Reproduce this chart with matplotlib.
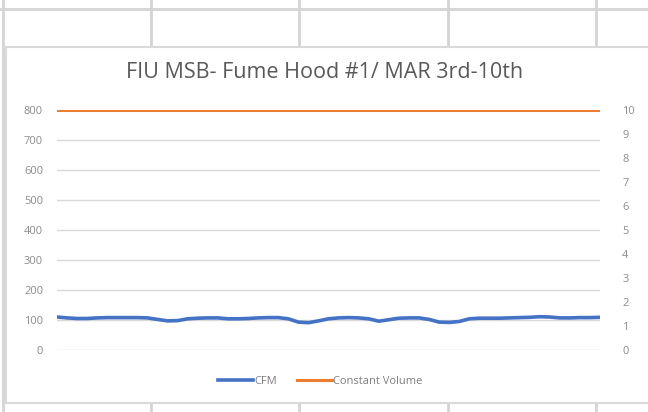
import matplotlib
matplotlib.use("Agg")
import matplotlib.pyplot as plt
from matplotlib.lines import Line2D
from matplotlib.patches import Rectangle

# CFM readings, MAR 3rd-10th
cfm = [110, 107, 105, 105, 107, 108, 108, 108, 108, 107,
       102, 97, 98, 104, 106, 107, 107, 104, 104, 105,
       107, 108, 108, 104, 93, 91, 97, 104, 107, 108,
       107, 104, 96, 101, 106, 107, 107, 102, 93, 92,
       95, 104, 106, 106, 106, 107, 108, 109, 111, 110,
       107, 107, 108, 108, 109]
constant_volume = [800] * len(cfm)

left_ticks = list(range(0, 801, 100))
right_ticks = list(range(0, 11))
title = "FIU MSB- Fume Hood #1/ MAR 3rd-10th"

W, H = 648, 412
fig = plt.figure(figsize=(W / 100, H / 100), dpi=100)
fig.patch.set_facecolor("white")


def px(x, y):
    return x / W, 1 - y / H


# spreadsheet cell grid behind the chart
grid_col = "#d4d4d4"
for x in [3, 151, 299, 448, 596]:
    fig.add_artist(Line2D([x / W, x / W], [0, 1], color=grid_col, lw=2, transform=fig.transFigure, zorder=0))
fig.add_artist(Line2D([0, 1], [1 - 9 / H, 1 - 9 / H], color=grid_col, lw=2, transform=fig.transFigure, zorder=0))

# chart area
x0, y0 = px(6, 403)
x1, y1 = px(652, 47)
fig.add_artist(Rectangle((x0, y0), x1 - x0, y1 - y0, transform=fig.transFigure,
                         facecolor="white", edgecolor="#d9d9d9", lw=1.5, zorder=1))

ax = fig.add_axes([57 / W, (H - 350) / H, 543 / W, 240 / H], zorder=3)
ax.patch.set_alpha(0)
x = list(range(len(cfm)))
ax.plot(x, cfm, color="#4472C4", lw=2.6, label="CFM", zorder=4)
ax.plot(x, constant_volume, color="#ED7D31", lw=2.2, label="Constant Volume", zorder=4)
ax.set_xlim(0, len(cfm) - 1)
ax.set_ylim(0, 800)
ax.set_yticks(left_ticks)
ax.set_xticks([])
ax.grid(axis="y", color="#d9d9d9", lw=1)
ax.set_axisbelow(True)
for s in ax.spines.values():
    s.set_visible(False)
ax.tick_params(axis="y", length=0, pad=10, labelsize=8, labelcolor="#8c8c8c")

ax2 = ax.twinx()
ax2.set_ylim(0, 10)
ax2.set_yticks(right_ticks)
for s in ax2.spines.values():
    s.set_visible(False)
ax2.tick_params(axis="y", length=0, pad=16, labelsize=8, labelcolor="#8c8c8c")

fig.text(325 / W, 1 - 73 / H, title, ha="center", va="center",
         fontsize=15.5, color="#595959", family="Open Sans", zorder=5)

handles, labels = ax.get_legend_handles_labels()
fig.legend(handles, labels, loc="center", bbox_to_anchor=px(320, 381), ncol=2,
           frameon=False, labelcolor="#7f7f7f", handlelength=3.2,
           handletextpad=0.05, columnspacing=1.8, prop={"family": "Open Sans", "size": 8})

for t in ax.get_yticklabels() + ax2.get_yticklabels():
    t.set_family("Open Sans")

fig.savefig("out.png", dpi=100)
